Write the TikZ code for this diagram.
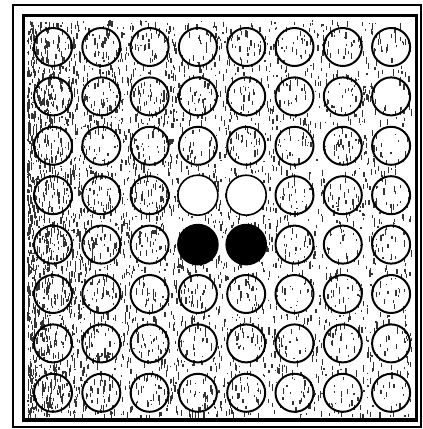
\documentclass[tikz,border=0pt]{standalone}
\usepackage{tikz}
\begin{document}
\begin{tikzpicture}[x=1pt, y=-1pt,
  frameline/.style={draw, line width=2pt},
  boardline/.style={draw, line width=3.5pt},
  cell/.style={draw, line width=2pt},
  whitedisc/.style={draw, line width=1.6pt, fill=white},
  blackdisc/.style={draw, line width=1.6pt, fill=black},
  speck/.style={line width=1.2pt, black!80}
]
\useasboundingbox (0,0) rectangle (423,429);

% scan noise on the board
\pgfmathsetseed{7}
\foreach \i in {1,...,4500}{
  \pgfmathsetmacro{\sx}{28+384*rnd^1.6}
  \pgfmathsetmacro{\sy}{20+395*rnd}
  \pgfmathsetmacro{\sl}{1+6*rnd}
  \draw[speck] (\sx,\sy) -- ++(0,\sl);
}

% frame
\draw[frameline] (13,5) rectangle (421,427);
\draw[boardline] (23.5,15.5) rectangle (416.5,420);

% cells
\foreach \r in {0,...,7}
  \foreach \c in {0,...,7}
    \draw[cell] ({53+48.3*\c},{47+49.4*\r}) circle (19pt);

% starting discs
\draw[whitedisc] ({53+48.3*3},{47+49.4*3}) circle (20pt);
\draw[whitedisc] ({53+48.3*4},{47+49.4*3}) circle (20pt);
\draw[blackdisc] ({53+48.3*3},{47+49.4*4}) circle (20pt);
\draw[blackdisc] ({53+48.3*4},{47+49.4*4}) circle (20pt);
\end{tikzpicture}
\end{document}
